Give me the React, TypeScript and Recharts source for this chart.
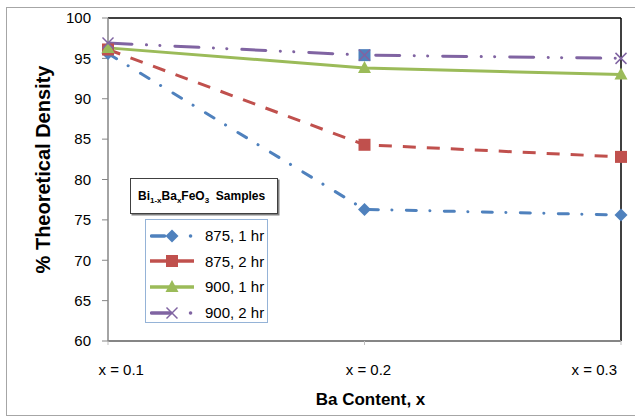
import React from "react";
import {
  LineChart,
  Line,
  XAxis,
  YAxis,
  Legend,
  ReferenceLine,
} from "recharts";

const categories = ["x = 0.1", "x = 0.2", "x = 0.3"];
const s875_1hr = [95.6, 76.3, 75.6];
const s875_2hr = [96.1, 84.3, 82.8];
const s900_1hr = [96.3, 93.8, 93.0];
const s900_2hr = [96.9, 95.4, 95.0];
const yTicks = [60, 65, 70, 75, 80, 85, 90, 95, 100];

const TICK_FONT = "'Liberation Sans', Arial, sans-serif";

type Shape = "diamond" | "square" | "triangle" | "cross";

interface SeriesDef {
  key: string;
  name: string;
  color: string;
  shape: Shape;
  dash?: string;
  cap?: "round" | "butt";
  legendDash?: string;
}

const series: SeriesDef[] = [
  { key: "a", name: "875, 1 hr", color: "#4F81BD", shape: "diamond", dash: "10 13.5 0.1 14.4", cap: "round", legendDash: "13 26 0.1 100" },
  { key: "b", name: "875, 2 hr", color: "#C0504D", shape: "square", dash: "13 11", cap: "butt" },
  { key: "c", name: "900, 1 hr", color: "#9BBB59", shape: "triangle" },
  { key: "d", name: "900, 2 hr", color: "#8064A2", shape: "cross", dash: "24 14.5 0.1 13.3 0.1 15", cap: "round", legendDash: "19 20 0.1 100" },
];

const data = categories.map((cat, i) => ({
  cat,
  a: s875_1hr[i],
  b: s875_2hr[i],
  c: s900_1hr[i],
  d: s900_2hr[i],
}));

function marker(shape: Shape, color: string, cx: number, cy: number, key?: string | number) {
  switch (shape) {
    case "diamond":
      return (
        <polygon key={key} points={`${cx},${cy - 6.5} ${cx + 6.5},${cy} ${cx},${cy + 6.5} ${cx - 6.5},${cy}`} fill={color} />
      );
    case "square":
      return <rect key={key} x={cx - 6} y={cy - 6} width={12} height={12} fill={color} />;
    case "triangle":
      return (
        <polygon key={key} points={`${cx},${cy - 7} ${cx + 6.5},${cy + 5} ${cx - 6.5},${cy + 5}`} fill={color} />
      );
    default:
      return (
        <g key={key}>
          <line x1={cx - 5.5} y1={cy - 5.5} x2={cx + 5.5} y2={cy + 5.5} stroke={color} strokeWidth={1.5} />
          <line x1={cx - 5.5} y1={cy + 5.5} x2={cx + 5.5} y2={cy - 5.5} stroke={color} strokeWidth={1.5} />
        </g>
      );
  }
}

// the 900/2hr point at x = 0.2 sits on a blue square in the original
const squaredIndex = 1;

function makeDot(s: SeriesDef) {
  return (props: any) => {
    const { cx, cy, index } = props;
    if (cx == null || cy == null) return <g key={index} />;
    if (s.shape === "cross" && index === squaredIndex) {
      return (
        <g key={index}>
          <rect x={cx - 6} y={cy - 6} width={12} height={12} fill="#4F81BD" />
          {marker(s.shape, s.color, cx, cy)}
        </g>
      );
    }
    return marker(s.shape, s.color, cx, cy, index);
  };
}

function XTick(props: any) {
  const { x, y, payload, index } = props;
  let anchor: "start" | "middle" | "end" = "middle";
  let dx = 4;
  if (index === 0) {
    anchor = "start";
    dx = -9.5;
  } else if (index === categories.length - 1) {
    anchor = "end";
    dx = -4;
  }
  return (
    <text x={x + dx} y={y} dy={28} textAnchor={anchor} fontSize={15} fontFamily={TICK_FONT} fill="#000">
      {payload.value}
    </text>
  );
}

function YTitle(props: any) {
  const vb = props.viewBox;
  const cy = vb.y + vb.height / 2 - 10;
  return (
    <text
      x={50}
      y={cy}
      transform={`rotate(-90 50 ${cy})`}
      textAnchor="middle"
      fontSize={20}
      fontWeight="bold"
      fontFamily="'Liberation Sans', Arial, sans-serif"
      fill="#000"
    >
      % Theoretical Density
    </text>
  );
}

function XTitle(props: any) {
  const vb = props.viewBox;
  const cx = vb.x + vb.width / 2 + 6;
  return (
    <text x={cx} y={405} textAnchor="middle" fontSize={17} fontWeight="bold" fontFamily="'Liberation Sans', Arial, sans-serif" fill="#000">
      Ba Content, x
    </text>
  );
}

function LegendIcon({ s }: { s: SeriesDef }) {
  return (
    <svg width={46} height={20} style={{ display: "block" }}>
      <line
        x1={s.legendDash ? 1.5 : 0}
        y1={10}
        x2={44}
        y2={10}
        stroke={s.color}
        strokeWidth={3.5}
        strokeDasharray={s.legendDash}
        strokeLinecap={s.legendDash ? "round" : "butt"}
      />
      {marker(s.shape, s.color, 22, 10)}
    </svg>
  );
}

function renderLegend() {
  return (
    <div style={{ position: "relative", width: 635, height: 419, pointerEvents: "none" }}>
      <div
        style={{
          position: "absolute",
          left: 130,
          top: 178,
          width: 148,
          height: 36,
          border: "1px solid #404040",
          boxShadow: "1.5px 1.5px 0 #808080",
          background: "#fff",
          boxSizing: "border-box",
          fontFamily: TICK_FONT,
          fontWeight: "bold",
          fontSize: 12,
          lineHeight: "34px",
          paddingLeft: 7,
          color: "#000",
          whiteSpace: "nowrap",
        }}
      >
        Bi<sub style={{ fontSize: 8 }}>1-x</sub>Ba<sub style={{ fontSize: 8 }}>x</sub>FeO
        <sub style={{ fontSize: 8 }}>3</sub>&nbsp; Samples
      </div>
      <div
        style={{
          position: "absolute",
          left: 145,
          top: 219,
          width: 123,
          height: 104,
          border: "1px solid #95B3D7",
          background: "#fff",
          boxSizing: "border-box",
          paddingTop: 3,
        }}
      >
        {series.map((s) => (
          <div key={s.key} style={{ display: "flex", alignItems: "center", height: 25.6 }}>
            <div style={{ marginLeft: 4, width: 55 }}>
              <LegendIcon s={s} />
            </div>
            <span style={{ fontFamily: TICK_FONT, fontSize: 15, color: "#000", whiteSpace: "nowrap" }}>{s.name}</span>
          </div>
        ))}
      </div>
    </div>
  );
}

export default function App() {
  return (
    <div style={{ position: "absolute", left: 0, top: 0, width: 635, height: 419, background: "#fff", overflow: "hidden" }}>
      <div
        style={{
          position: "absolute",
          left: 6,
          top: 7,
          width: 640,
          height: 409,
          border: "1.5px solid #a6a6a6",
          boxSizing: "border-box",
        }}
      />
      <div style={{ position: "absolute", left: 0, top: 0 }}>
        <LineChart width={635} height={419} data={data} margin={{ top: 18, right: 14, bottom: 0, left: 0 }}>
          <XAxis
            dataKey="cat"
            height={78}
            interval={0}
            axisLine={{ stroke: "#868686", strokeWidth: 2 }}
            tickLine={{ stroke: "#bfbfbf" }}
            tickSize={4}
            tickMargin={2}
            tick={<XTick />}
            label={<XTitle />}
          />
          <YAxis
            domain={[60, 100]}
            ticks={yTicks}
            width={108}
            allowDataOverflow
            axisLine={{ stroke: "#868686", strokeWidth: 1.5 }}
            tickLine={{ stroke: "#868686" }}
            tickSize={6}
            tickMargin={11}
            tick={{ fontSize: 15, fontFamily: TICK_FONT, fill: "#000" }}
            label={<YTitle />}
          />
          <ReferenceLine y={100} stroke="#000" strokeWidth={1.5} />
          <ReferenceLine x={categories[categories.length - 1]} stroke="#000" strokeWidth={1.5} />
          {series.map((s) => (
            <Line
              key={s.key}
              type="linear"
              dataKey={s.key}
              name={s.name}
              stroke={s.color}
              strokeWidth={3}
              strokeDasharray={s.dash}
              strokeLinecap={s.cap}
              dot={makeDot(s)}
              activeDot={false}
              isAnimationActive={false}
            />
          ))}
          <Legend
            layout="vertical"
            align="center"
            verticalAlign="middle"
            content={renderLegend}
            wrapperStyle={{ left: 0, top: 0, width: 635, height: 419 }}
          />
        </LineChart>
      </div>
    </div>
  );
}
